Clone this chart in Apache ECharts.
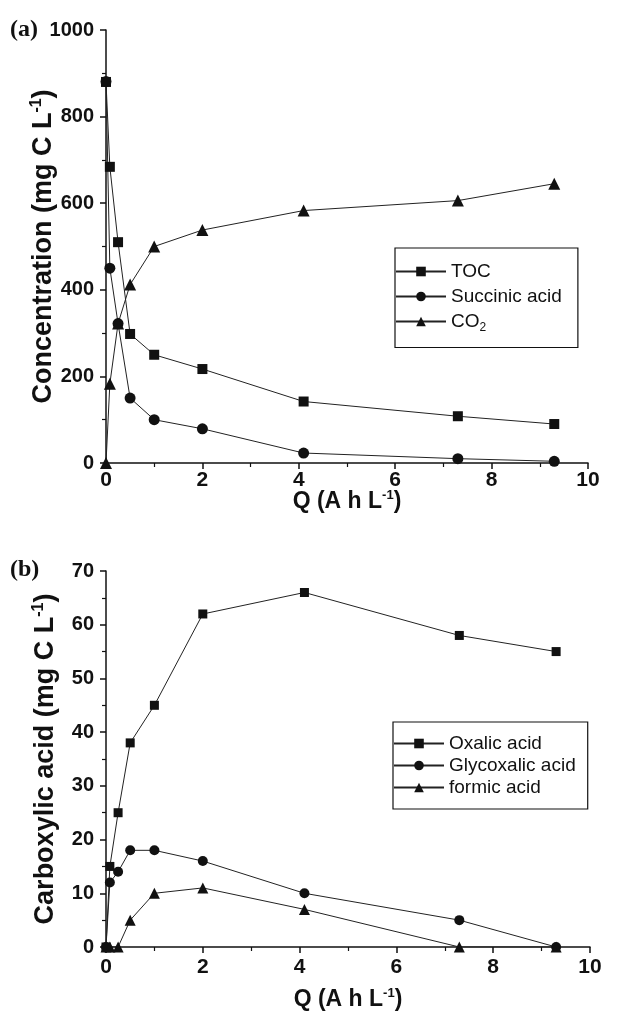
<!DOCTYPE html>
<html>
<head>
<meta charset="utf-8">
<script src="https://cdn.jsdelivr.net/npm/echarts@6/dist/echarts.min.js"></script>
<style>
  html, body { margin: 0; padding: 0; background: #fff; }
  #chart { width: 630px; height: 1017px; }
</style>
</head>
<body>
<div id="chart"></div>
<script>
// panel (a)
const qA = [0, 0.08, 0.25, 0.5, 1, 2, 4.1, 7.3, 9.3];
const toc = [880, 684, 510, 298, 250, 217, 142, 108, 90];
const succinic = [881, 450, 322, 150, 100, 79, 23, 10, 4];
const co2 = [0, 183, 322, 412, 500, 538, 583, 606, 645];
// panel (b)
const qB = [0, 0.08, 0.25, 0.5, 1, 2, 4.1, 7.3, 9.3];
const oxalic = [0, 15, 25, 38, 45, 62, 66, 58, 55];
const glycoxalic = [0, 12, 14, 18, 18, 16, 10, 5, 0];
const formic = [0, 0, 0, 5, 10, 11, 7, 0, 0];

const pairs = (xs, ys) => xs.map((x, i) => [x, ys[i]]);

const chart = echarts.init(document.getElementById('chart'));

const font = 'Liberation Sans, Arial, sans-serif';
const ink = '#111';

function nameStyle(size) {
    return {
        fontSize: size, fontWeight: 'bold', fontFamily: font, color: ink, lineHeight: size + 2,
        rich: { sup: { fontSize: Math.round(size * 0.58), fontWeight: 'bold', fontFamily: font, color: ink, verticalAlign: 'top', lineHeight: Math.round(size * 0.55) } }
    };
}

function xAxis(gridIndex, gap, margin) {
    return {
        type: 'value', gridIndex: gridIndex,
        min: 0, max: 10, interval: 2,
        name: 'Q (A h L{sup|-1})',
        nameLocation: 'middle', nameGap: gap, nameMoveOverlap: false,
        nameTextStyle: nameStyle(23),
        axisLine: { lineStyle: { color: ink, width: 1.5 } },
        axisTick: { length: 6, lineStyle: { color: ink, width: 1.5 } },
        minorTick: { show: true, splitNumber: 2, length: 4, lineStyle: { color: ink, width: 1.2 } },
        splitLine: { show: false },
        axisLabel: { fontSize: 21, fontWeight: 'bold', fontFamily: font, color: ink, margin: margin }
    };
}

function yAxis(gridIndex, max, interval, name, gap) {
    return {
        type: 'value', gridIndex: gridIndex,
        min: 0, max: max, interval: interval,
        name: name,
        nameLocation: 'middle', nameGap: gap, nameMoveOverlap: false,
        nameTextStyle: nameStyle(27),
        axisLine: { show: true, lineStyle: { color: ink, width: 1.5 } },
        axisTick: { show: true, length: 6, lineStyle: { color: ink, width: 1.5 } },
        minorTick: { show: true, splitNumber: 2, length: 4, lineStyle: { color: ink, width: 1.2 } },
        splitLine: { show: false },
        axisLabel: { fontSize: 20, fontWeight: 'bold', fontFamily: font, color: ink, margin: 12, formatter: v => String(v) }
    };
}

function line(name, data, symbol, size, xi, yi) {
    return {
        name: name, type: 'line', xAxisIndex: xi, yAxisIndex: yi,
        data: data, symbol: symbol, symbolSize: size,
        showAllSymbol: true,
        lineStyle: { color: '#222', width: 1 },
        itemStyle: { color: ink },
        emphasis: { disabled: true },
        animation: false
    };
}

const legendBase = {
    orient: 'vertical',
    itemWidth: 50, itemHeight: 12,
    borderColor: ink, borderWidth: 1.2,
    textStyle: {
        fontSize: 19, fontFamily: font, color: ink,
        rich: { sub: { fontSize: 12, fontFamily: font, color: ink, verticalAlign: 'bottom', lineHeight: 24 } }
    },
    formatter: n => n === 'CO2' ? 'CO{sub|2}' : n
};

chart.setOption({
    animation: false,
    grid: [
        { left: 106, right: 42, top: 30, height: 433 },
        { left: 106, right: 40, top: 571, height: 376 }
    ],
    xAxis: [xAxis(0, 26, 7), xAxis(1, 40, 10)],
    yAxis: [
        yAxis(0, 1000, 200, 'Concentration (mg C L{sup|-1})', 48),
        yAxis(1, 70, 10, 'Carboxylic acid (mg C L{sup|-1})', 46)
    ],
    legend: [
        Object.assign({}, legendBase, { left: 395, top: 248, itemGap: 6, padding: [14, 16, 14, 0], data: ['TOC', 'Succinic acid', 'CO2'] }),
        Object.assign({}, legendBase, { left: 393, top: 722, itemGap: 3, padding: [12, 12, 12, 0], data: ['Oxalic acid', 'Glycoxalic acid', 'formic acid'] })
    ],
    graphic: [
        { type: 'text', left: 10, top: 18, style: { text: '(a)', font: 'bold 24px "Liberation Serif", serif', fill: ink } },
        { type: 'text', left: 10, top: 558, style: { text: '(b)', font: 'bold 24px "Liberation Serif", serif', fill: ink } }
    ],
    series: [
        line('TOC', pairs(qA, toc), 'rect', 10, 0, 0),
        line('Succinic acid', pairs(qA, succinic), 'circle', 11, 0, 0),
        line('CO2', pairs(qA, co2), 'triangle', 12, 0, 0),
        line('Oxalic acid', pairs(qB, oxalic), 'rect', 9, 1, 1),
        line('Glycoxalic acid', pairs(qB, glycoxalic), 'circle', 10, 1, 1),
        line('formic acid', pairs(qB, formic), 'triangle', 11, 1, 1)
    ]
});
</script>
</body>
</html>
